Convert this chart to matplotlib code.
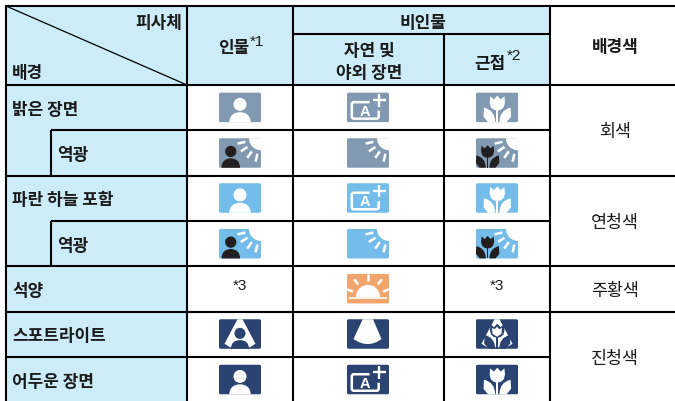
import math
from matplotlib import pyplot as plt
from matplotlib import patches
from matplotlib.path import Path

plt.rcParams['font.family'] = ['Noto Sans CJK KR', 'DejaVu Sans']

scene_labels = ['밝은 장면', '역광', '파란 하늘 포함', '역광', '석양', '스포트라이트', '어두운 장면']
scene_indent = [False, True, False, True, False, False, False]
color_labels = ['회색', '연청색', '주황색', '진청색']
portrait_icons = ['person', 'person_back', 'person', 'person_back', None, 'person_spot', 'person']
scenery_icons = ['auto', 'back', 'auto', 'back', 'sunset', 'spot', 'auto']
macro_icons = ['macro', 'macro_back', 'macro', 'macro_back', None, 'macro_spot', 'macro']
row_colors = ['#829ab1', '#829ab1', '#74bdea', '#74bdea', '#f1a56c', '#2b4370', '#2b4370']

HEAD = '#cdecfa'
DARK = '#231f20'
W, H = 675, 402
ICON_W, ICON_H = 42, 29.5

fig = plt.figure(figsize=(W / 100, H / 100), dpi=100)
ax = fig.add_axes([0, 0, 1, 1])
ax.set_xlim(0, W)
ax.set_ylim(H, 0)
ax.axis('off')


def fill(x0, y0, x1, y1, color):
    ax.add_patch(patches.Rectangle((x0, y0), x1 - x0, y1 - y0, fc=color, ec='none', zorder=1))


def line(x0, y0, x1, y1, lw=1.5):
    ax.plot([x0, x1], [y0, y1], color='k', lw=lw, zorder=3, solid_capstyle='butt')


def text(x, y, s, size=12.2, weight='black', ha='center', family=None):
    ax.text(x, y + 1.5, s, fontsize=size, fontweight=weight, ha=ha, va='center', color='#1a1a1a', zorder=5,
            family=family or ['Noto Sans CJK KR', 'DejaVu Sans'])


def person(ox, oy, color, s=1.0, dx=0.0, dy=0.0):
    # head + shoulders, local icon coords
    ax.add_patch(patches.Circle((ox + dx + 21 * s, oy + dy + 11.7 * s), 6.5 * s, fc=color, ec='none', zorder=4))
    verts = [(10.3, 29.5), (10.5, 20), (21, 19.5), (31.5, 20), (31.7, 29.5), (10.3, 29.5)]
    codes = [Path.MOVETO, Path.CURVE3, Path.CURVE3, Path.CURVE3, Path.CURVE3, Path.CLOSEPOLY]
    verts = [(ox + dx + x * s, oy + dy + y * s if y < 29 else oy + 29.5) for x, y in verts]
    ax.add_patch(patches.PathPatch(Path(verts, codes), fc=color, ec='none', zorder=4))


def tulip(ox, oy, color, s=1.0, dx=0.0, dy=0.0):
    flower = [(14.2, 3.6), (17.9, 6.8), (21.3, 3), (24.8, 6.8), (28.4, 3.6), (29, 10), (27.8, 14.5), (25, 17), (21.3, 18),
              (17.6, 17), (14.8, 14.5), (13.6, 10)]
    ax.add_patch(patches.Polygon([(ox + dx + x * s, oy + dy + y * s) for x, y in flower],
                                 fc=color, ec='none', zorder=4))
    left = [(8, 15), (19, 17.5), (19.2, 29.5), (12, 29.5), (7.5, 24), (8, 15)]
    right = [(34.6, 15), (23.6, 17.5), (23.4, 29.5), (30.6, 29.5), (35.1, 24), (34.6, 15)]
    codes = [Path.MOVETO, Path.CURVE3, Path.CURVE3, Path.LINETO, Path.LINETO, Path.CLOSEPOLY]
    for leaf in (left, right):
        verts = [(ox + dx + x * s, oy + dy + y * s) for x, y in leaf]
        ax.add_patch(patches.PathPatch(Path(verts, codes), fc=color, ec='none', zorder=4))
    stem = [(20.4, 16), (22.2, 16), (22.2, 29.5), (20.4, 29.5)]
    ax.add_patch(patches.Polygon([(ox + dx + x * s, oy + dy + y * s) for x, y in stem], fc=color, ec='none', zorder=4))


def ray(cx, cy, angle, d0, d1, lw=1.8, up=False):
    a = math.radians(angle)
    sign = -1 if up else 1
    ax.plot([cx - d0 * math.cos(a), cx - d1 * math.cos(a)],
            [cy + sign * d0 * math.sin(a), cy + sign * d1 * math.sin(a)],
            color='white', lw=lw, zorder=4, solid_capstyle='butt')


def sun_corner(ox, oy):
    cx, cy = ox + ICON_W, oy
    ax.add_patch(patches.Wedge((cx, cy), 12, 90, 180, fc='white', ec='none', zorder=4))
    for a in (13, 33, 55, 77):
        ray(cx, cy, a, 16, 24)


def draw_icon(name, cx, cy, color):
    ox, oy = cx - ICON_W / 2, cy - ICON_H / 2
    ax.add_patch(patches.FancyBboxPatch((ox, oy), ICON_W, ICON_H, boxstyle='round,pad=0,rounding_size=1.5',
                                        fc=color, ec='none', zorder=2))
    if name == 'person':
        person(ox, oy, 'white')
    elif name == 'person_back':
        sun_corner(ox, oy)
        person(ox, oy, DARK, 0.87, -6.5, 3.0)
    elif name == 'back':
        sun_corner(ox, oy)
    elif name == 'macro':
        tulip(ox, oy, 'white')
    elif name == 'macro_back':
        sun_corner(ox, oy)
        tulip(ox, oy, DARK, 0.85, -6.5, 4.4)
    elif name == 'auto':
        pts = [(22.5, 9.5), (7, 9.5), (4.8, 9.5), (4.8, 11.5), (4.8, 24), (4.8, 26), (7, 26), (29.5, 26), (31.7, 26),
               (31.7, 24), (31.7, 18)]
        codes = [Path.MOVETO, Path.LINETO, Path.CURVE3, Path.CURVE3, Path.LINETO, Path.CURVE3, Path.CURVE3,
                 Path.LINETO, Path.CURVE3, Path.CURVE3, Path.LINETO]
        frame = Path([(ox + x, oy + y) for x, y in pts], codes)
        ax.add_patch(patches.PathPatch(frame, fc='none', ec='white', lw=1.8, zorder=4))
        ax.text(ox + 18.3, oy + 18, 'A', fontsize=10.5, fontweight='bold', family='Liberation Sans', color='white',
                ha='center', va='center', zorder=4)
        ax.plot([ox + 26, ox + 38.5], [oy + 7.7, oy + 7.7], color='white', lw=1.7, zorder=4, solid_capstyle='butt')
        ax.plot([ox + 32.3, ox + 32.3], [oy + 1.5, oy + 14], color='white', lw=1.7, zorder=4, solid_capstyle='butt')
    elif name == 'sunset':
        bx, by = ox + 21, oy + 24
        ax.add_patch(patches.Wedge((bx, by - 1), 12, 180, 360, fc='white', ec='none', zorder=4))
        ax.plot([ox + 2.3, ox + 39.5], [by + 0.2, by + 0.2], color='white', lw=1.2, zorder=4, solid_capstyle='butt')
        for a in (20, 52, 90, 128, 160):
            ray(bx, by - 1, a, 16, 22.5, up=True)
    elif name == 'spot':
        fan = Path([(ox + 15.7, oy), (ox + 26, oy), (ox + 34.5, oy + 19.7), (ox + 21, oy + 30), (ox + 6.5, oy + 19.7),
                    (ox + 15.7, oy)],
                   [Path.MOVETO, Path.LINETO, Path.LINETO, Path.CURVE3, Path.CURVE3, Path.CLOSEPOLY])
        ax.add_patch(patches.PathPatch(fan, fc='white', ec='none', zorder=3))
    elif name in ('person_spot', 'macro_spot'):
        tri = [(ox + 18.5, oy), (ox + 23.5, oy), (ox + 36.5, oy + 24.5), (ox + 31, oy + 28), (ox + 11, oy + 28),
               (ox + 5.5, oy + 24.5)]
        ax.add_patch(patches.Polygon(tri, fc='white', ec='none', zorder=3))
        if name == 'person_spot':
            person(ox, oy, color, 0.85, 3.1, 4.2)
        else:
            tulip(ox, oy, color, 0.95, 1.0, 1.5)
            ax.add_patch(patches.Polygon([(ox + 16, oy + 8.5), (ox + 18.5, oy + 10), (ox + 21, oy + 7.5),
                                          (ox + 23.5, oy + 10), (ox + 26, oy + 8.5), (ox + 25.5, oy + 14.5),
                                          (ox + 21, oy + 17.5), (ox + 16.5, oy + 14.5)],
                                         fc='white', ec='none', zorder=4))


fill(6, 7, 293, 86, HEAD)
fill(293, 7, 550, 86, HEAD)
fill(6, 86, 187, H, HEAD)

# grid
line(6, 7, W, 7)
line(6, 6.3, 6, H)
line(187, 7, 187, H)
line(293, 7, 293, H)
line(550, 7, 550, H)
line(293, 34.5, 550, 34.5)
line(444, 34.5, 444, H)
line(6, 85.7, W, 85.7)
line(51, 131, 550, 131)
line(6, 176.7, W, 176.7)
line(51, 222, 550, 222)
line(6, 267, W, 267)
line(6, 312.5, W, 312.5)
line(6, 357.5, 550, 357.5)
line(51, 131, 51, 176.7)
line(51, 222, 51, 267)
line(6, 7, 187, 86, lw=0.9)

# header text
text(182, 22, '피사체', ha='right')
text(12, 71, '배경', ha='left')
text(234, 46, '인물')
text(250, 40, '*1', size=11, weight='normal', ha='left', family='Liberation Sans')
text(422.5, 21, '비인물')
text(369, 49, '자연 및')
text(369, 71, '야외 장면')
text(490, 62, '근접')
text(507, 55, '*2', size=11, weight='normal', ha='left', family='Liberation Sans')
text(615, 46, '배경색')

row_y = [108.4, 154, 199, 244.7, 289.7, 335, 380.5]
for i, label in enumerate(scene_labels):
    text(57 if scene_indent[i] else 12, row_y[i], label, ha='left')
    for cx, icons in zip((240, 368, 497), (portrait_icons, scenery_icons, macro_icons)):
        if icons[i]:
            draw_icon(icons[i], cx, row_y[i], row_colors[i])
        else:
            text(cx, row_y[i] - 5, '*3', size=11, weight='normal', family='Liberation Sans')

for y, label in zip((131, 222, 290, 358), color_labels):
    text(615, y, label, size=12.5, weight='normal')

fig.savefig('out.png', dpi=100)
